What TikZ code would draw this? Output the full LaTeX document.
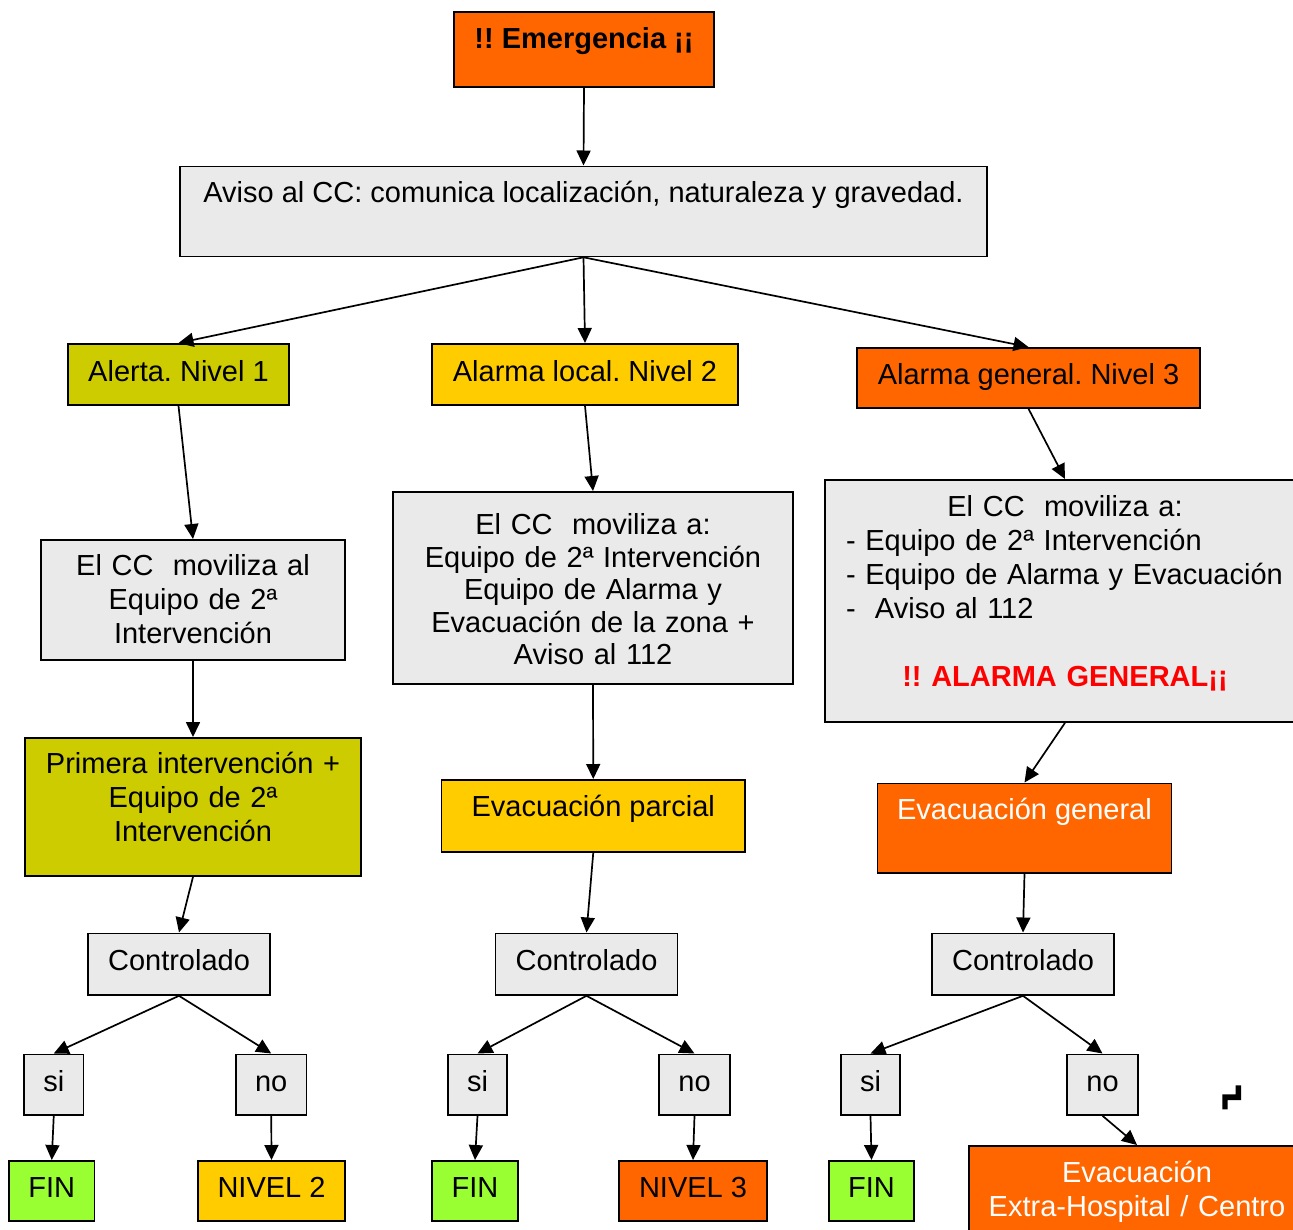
\documentclass[tikz,border=0pt]{standalone}
\usepackage{fontspec}
\setmainfont{Liberation Sans}
\usetikzlibrary{arrows.meta}
\frenchspacing
\definecolor{N1color}{RGB}{204,204,0}
\definecolor{N2color}{RGB}{255,204,0}
\definecolor{N3color}{RGB}{255,102,0}
\definecolor{boxgray}{RGB}{234,234,234}
\definecolor{fincolor}{RGB}{153,255,51}
\definecolor{alarmred}{RGB}{255,0,0}

\begin{document}
\begin{tikzpicture}[x=1pt,y=-1pt,>={Triangle[length=15pt,width=14pt]},
    font=\fontsize{29}{34}\selectfont]
  % Estilos
  \tikzset{
    box/.style={draw,line width=1.8pt,inner sep=0pt,anchor=north,align=center},
    grey/.style={box,fill=boxgray},
    nivel/.style={text height=38pt,text depth=23pt},
    ctrl/.style={grey,minimum width=182pt,text height=37.5pt,text depth=24pt},
    sino/.style={grey,text height=37.5pt,text depth=23pt},
    final/.style={box,text height=37pt,text depth=23pt},
    flecha/.style={->,line width=1.7pt}
  }

  \useasboundingbox (0,0) rectangle (1293,1229);
  \clip (0,0) rectangle (1293,1229);

  %================= CABECERA =================
  \node[box,fill=N3color,minimum width=260pt,text height=37pt,text depth=38pt,
        font=\fontsize{29}{34}\selectfont\bfseries] (emerg) at (584,11) {!! Emergencia ¡¡};
  \node[grey,minimum width=807pt,text height=36.5pt,text depth=53.5pt] (aviso) at (583.5,165.5)
        {Aviso al CC: comunica localización, naturaleza y gravedad.};

  %================= NIVELES =================
  \node[box,fill=N1color,nivel,minimum width=221pt] (N1-alerta) at (178.5,343) {Alerta. Nivel 1};
  \node[box,fill=N2color,nivel,minimum width=306pt] (N2-alarma) at (585,343) {Alarma local. Nivel 2};
  \node[box,fill=N3color,minimum width=343pt,text height=36.5pt,text depth=23.5pt]
        (N3-alarma) at (1028.5,347) {Alarma general. Nivel 3};

  %================= MOVILIZACION =================
  \node[grey,text width=304pt,text height=36pt,text depth=84pt] (N1-moviliza) at (193,539)
        {El CC~ moviliza al\\Equipo de 2ª\\Intervención};
  \node[grey,text width=400pt,text height=43pt,text depth=149pt,
        font=\fontsize{29}{32.5}\selectfont] (N2-moviliza) at (593,491)
        {El CC~ moviliza a:\\Equipo de 2ª Intervención\\Equipo de Alarma y\\Evacuación de la zona +\\Aviso al 112};
  \node[grey,align=left,text width=480pt,text height=37pt,text depth=205pt] (N3-moviliza) at (1065,479)
        {\makebox[\linewidth]{El CC~ moviliza a:}\\
         \hspace*{21pt}- Equipo de 2ª Intervención\\
         \hspace*{21pt}- Equipo de Alarma y Evacuación\\
         \hspace*{21pt}-~ Aviso al 112\\[34pt]
         \makebox[\linewidth]{\bfseries\color{alarmred}!! ALARMA GENERAL¡¡}};

  %================= ACTUACION =================
  \node[box,fill=N1color,text width=336pt,text height=36pt,text depth=102pt] (N1-primera) at (193,737)
        {Primera intervención +\\Equipo de 2ª\\Intervención};
  \node[box,fill=N2color,minimum width=303.5pt,text height=36.5pt,text depth=35.5pt]
        (N2-evac) at (593.25,779) {Evacuación parcial};
  \node[box,fill=N3color,text=white,minimum width=294pt,text height=36.5pt,text depth=53pt]
        (N3-evac) at (1024.5,782.5) {Evacuación general};

  %================= CONTROL =================
  \node[ctrl] (N1-ctrl) at (179,932.5) {Controlado};
  \node[ctrl] (N2-ctrl) at (586.5,932.5) {Controlado};
  \node[ctrl] (N3-ctrl) at (1023,932.5) {Controlado};

  \node[sino,minimum width=59.5pt] (N1-si) at (53.75,1053.5) {si};
  \node[sino,minimum width=70.5pt] (N1-no) at (271.25,1053.5) {no};
  \node[sino,minimum width=59pt] (N2-si) at (477.5,1053.5) {si};
  \node[sino,minimum width=71pt] (N2-no) at (694.5,1053.5) {no};
  \node[sino,minimum width=59pt] (N3-si) at (870.5,1053.5) {si};
  \node[sino,minimum width=71pt] (N3-no) at (1102.5,1053.5) {no};

  %================= FINAL =================
  \node[final,fill=fincolor,minimum width=85.5pt] (N1-fin) at (51.75,1160) {FIN};
  \node[final,fill=N2color,minimum width=147pt] (N1-nivel) at (271.5,1160) {NIVEL 2};
  \node[final,fill=fincolor,minimum width=86pt] (N2-fin) at (475,1160) {FIN};
  \node[final,fill=N3color,minimum width=148pt] (N2-nivel) at (693,1160) {NIVEL 3};
  \node[final,fill=fincolor,minimum width=85pt] (N3-fin) at (871.5,1160) {FIN};
  \node[box,fill=N3color,text=white,text width=336pt,text height=37pt,text depth=68pt]
        (N3-extra) at (1137,1145) {Evacuación\\Extra-Hospital / Centro};

  % marca suelta
  \fill (1235.7,1085.3) -- (1241,1085.3) -- (1241,1100) -- (1227.7,1100) -- (1227.7,1109.3)
        -- (1222.3,1109.3) -- (1222.3,1094.3) -- (1235.7,1094.3) -- cycle;

  %================= FLECHAS =================
  \draw[flecha] (emerg.south) -- (aviso.north);
  \draw[flecha] (aviso.south) -- (N1-alerta.north);
  \draw[flecha] (aviso.south) -- (N2-alarma.north);
  \draw[flecha] (aviso.south) -- (N3-alarma.north);

  \draw[flecha] (N1-alerta.south) -- (N1-moviliza.north);
  \draw[flecha] (N2-alarma.south) -- (N2-moviliza.north);
  \draw[flecha] (N3-alarma.south) -- (N3-moviliza.north);

  \draw[flecha] (N1-moviliza.south) -- (N1-primera.north);
  \draw[flecha] (N2-moviliza.south) -- (N2-evac.north);
  \draw[flecha] (N3-moviliza.south) -- (N3-evac.north);

  \draw[flecha] (N1-primera.south) -- (N1-ctrl.north);
  \draw[flecha] (N2-evac.south) -- (N2-ctrl.north);
  \draw[flecha] (N3-evac.south) -- (N3-ctrl.north);

  % Controlado -> si / no
  \draw[flecha] (N1-ctrl.south) -- (N1-si.north);
  \draw[flecha] (N1-ctrl.south) -- (N1-no.north);
  \draw[flecha] (N2-ctrl.south) -- (N2-si.north);
  \draw[flecha] (N2-ctrl.south) -- (N2-no.north);
  \draw[flecha] (N3-ctrl.south) -- (N3-si.north);
  \draw[flecha] (N3-ctrl.south) -- (N3-no.north);

  \draw[flecha] (N1-si.south) -- (N1-fin.north);
  \draw[flecha] (N1-no.south) -- (N1-nivel.north);
  \draw[flecha] (N2-si.south) -- (N2-fin.north);
  \draw[flecha] (N2-no.south) -- (N2-nivel.north);
  \draw[flecha] (N3-si.south) -- (N3-fin.north);
  \draw[flecha] (N3-no.south) -- (N3-extra.north);

\end{tikzpicture}
\end{document}
